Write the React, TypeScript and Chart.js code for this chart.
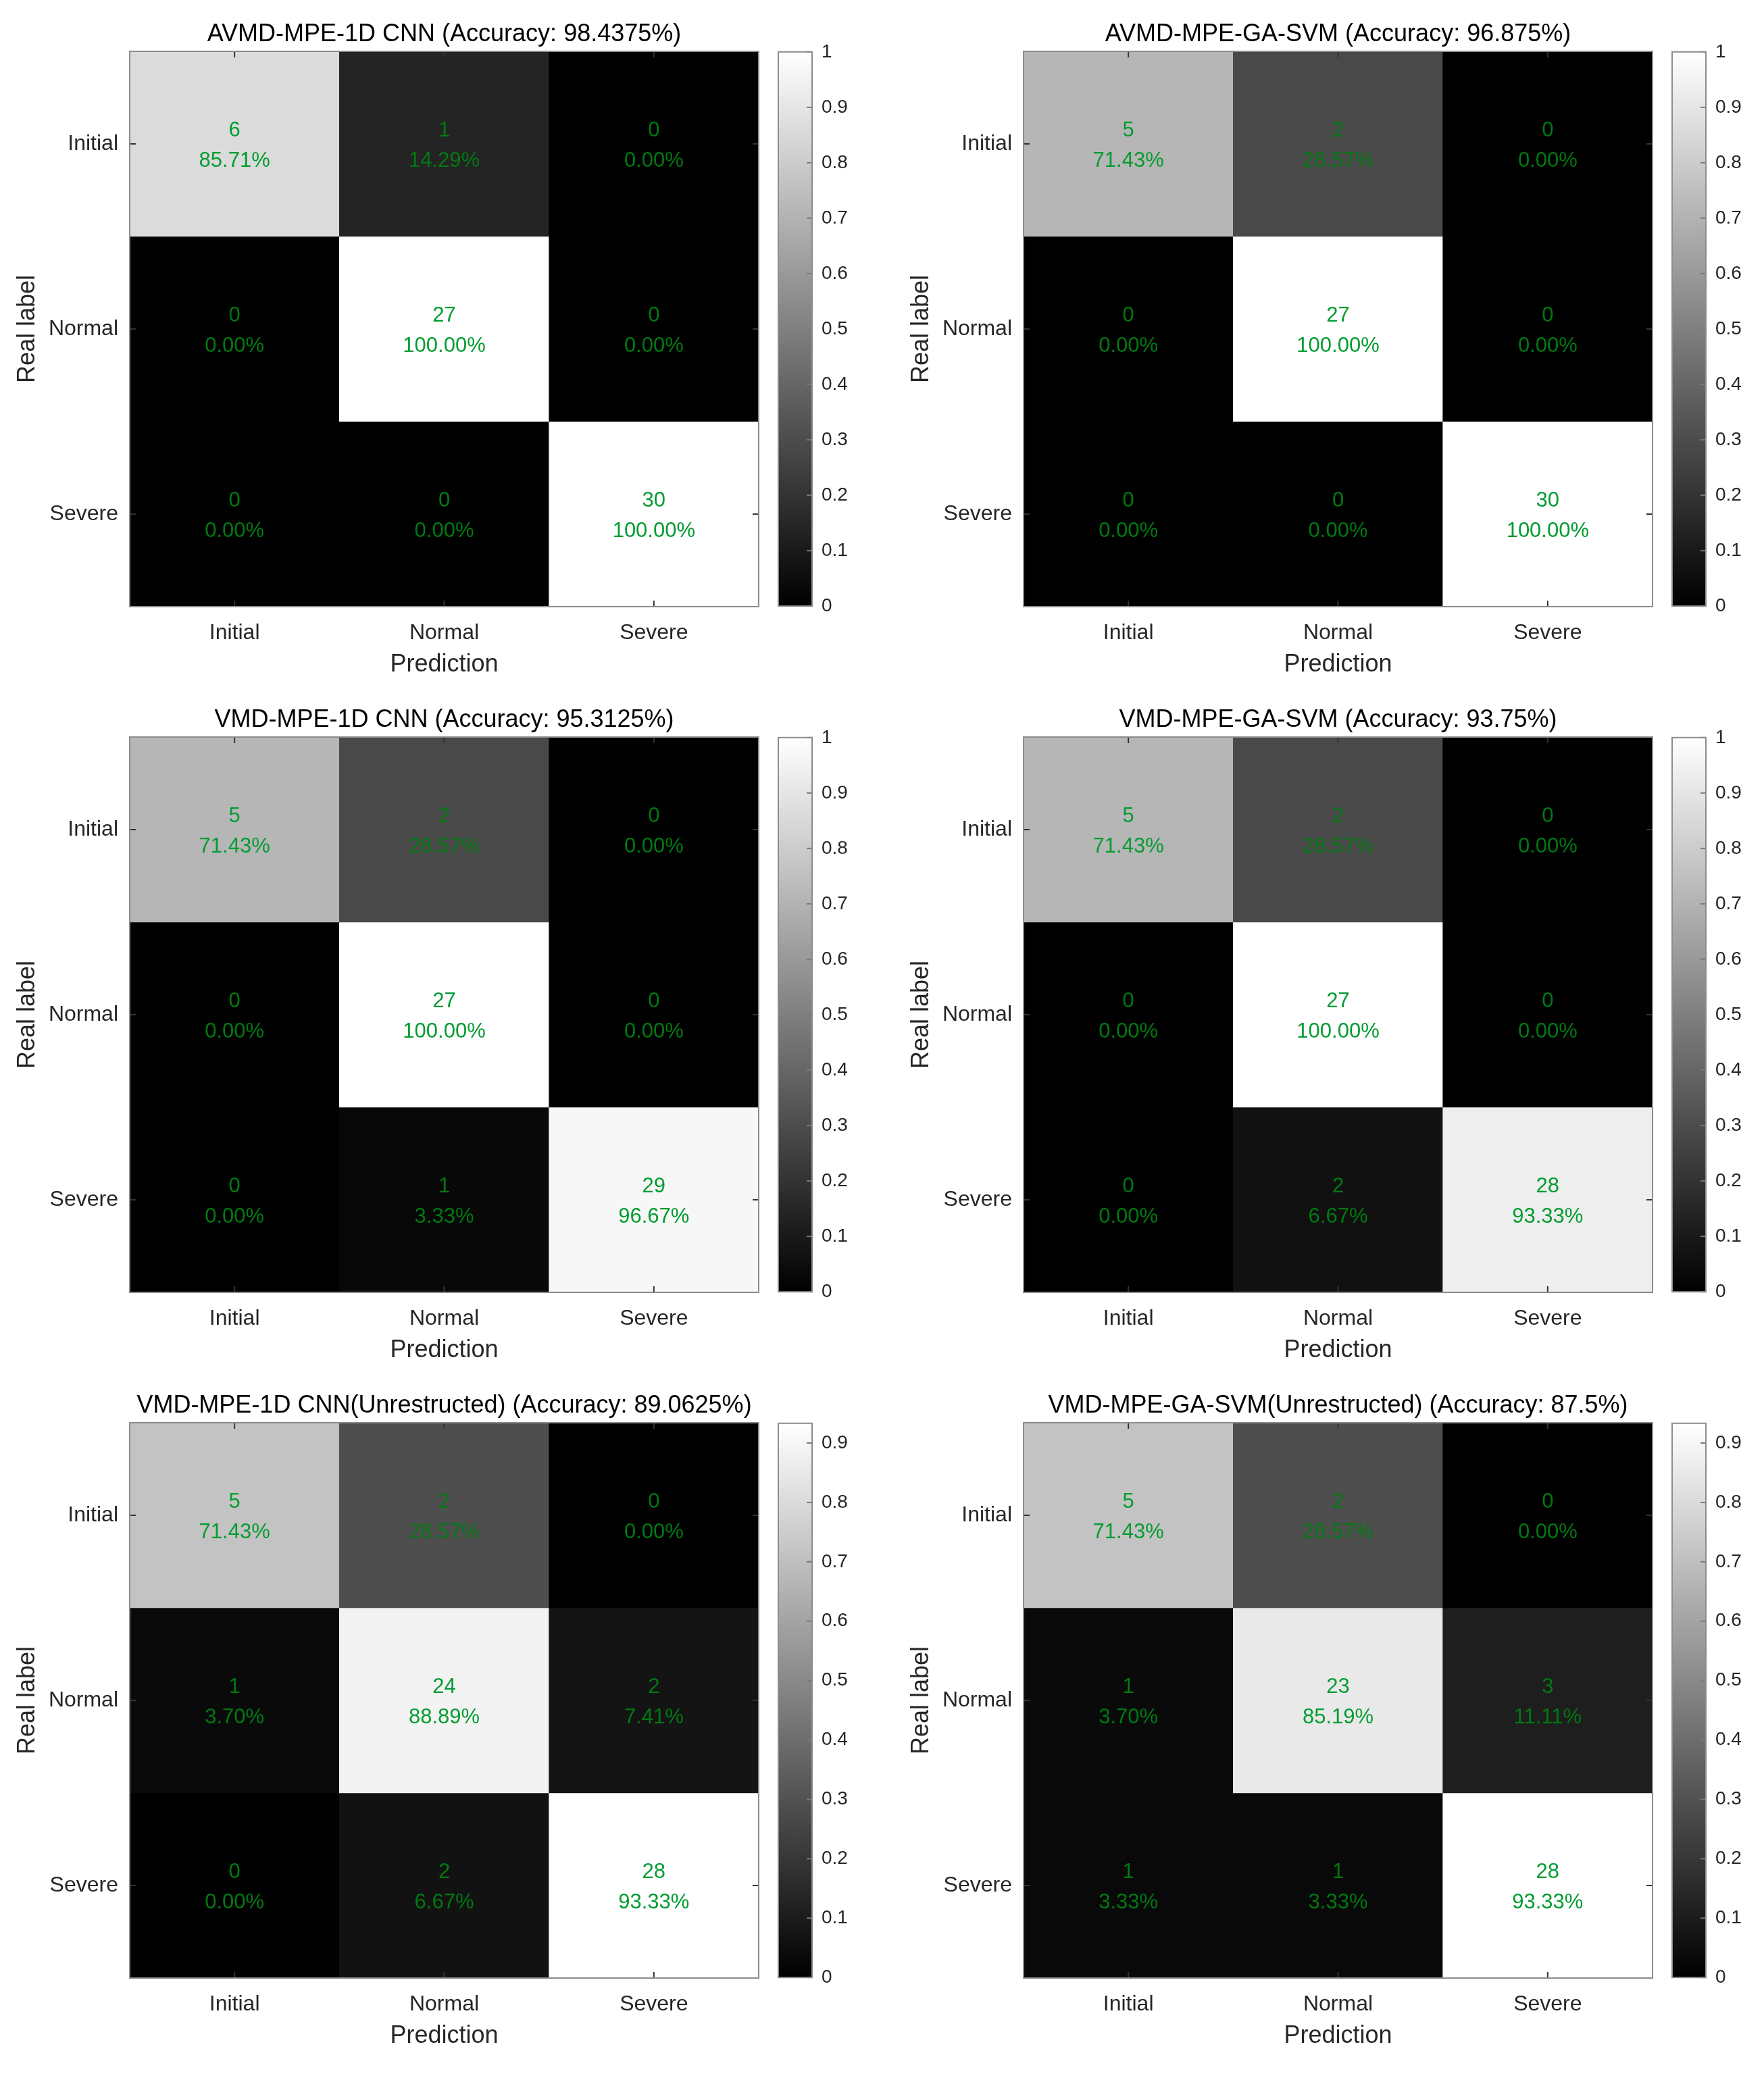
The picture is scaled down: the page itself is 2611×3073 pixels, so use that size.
import React, { useEffect, useRef } from 'react';
import { Chart, registerables } from 'chart.js';

Chart.register(...registerables);

// ---------------- data ----------------
const ROW_LABELS = ['Initial', 'Normal', 'Severe'];
const COL_LABELS = ['Initial', 'Normal', 'Severe'];

const TITLES = [
  'AVMD-MPE-1D CNN (Accuracy: 98.4375%)',
  'AVMD-MPE-GA-SVM (Accuracy: 96.875%)',
  'VMD-MPE-1D CNN (Accuracy: 95.3125%)',
  'VMD-MPE-GA-SVM (Accuracy: 93.75%)',
  'VMD-MPE-1D CNN(Unrestructed) (Accuracy: 89.0625%)',
  'VMD-MPE-GA-SVM(Unrestructed) (Accuracy: 87.5%)',
];

const COUNTS_AVMD_CNN = [[6, 1, 0], [0, 27, 0], [0, 0, 30]];
const PCTS_AVMD_CNN = [[85.71, 14.29, 0], [0, 100, 0], [0, 0, 100]];

const COUNTS_AVMD_SVM = [[5, 2, 0], [0, 27, 0], [0, 0, 30]];
const PCTS_AVMD_SVM = [[71.43, 28.57, 0], [0, 100, 0], [0, 0, 100]];

const COUNTS_VMD_CNN = [[5, 2, 0], [0, 27, 0], [0, 1, 29]];
const PCTS_VMD_CNN = [[71.43, 28.57, 0], [0, 100, 0], [0, 3.33, 96.67]];

const COUNTS_VMD_SVM = [[5, 2, 0], [0, 27, 0], [0, 2, 28]];
const PCTS_VMD_SVM = [[71.43, 28.57, 0], [0, 100, 0], [0, 6.67, 93.33]];

const COUNTS_VMD_CNN_U = [[5, 2, 0], [1, 24, 2], [0, 2, 28]];
const PCTS_VMD_CNN_U = [[71.43, 28.57, 0], [3.70, 88.89, 7.41], [0, 6.67, 93.33]];

const COUNTS_VMD_SVM_U = [[5, 2, 0], [1, 23, 3], [1, 1, 28]];
const PCTS_VMD_SVM_U = [[71.43, 28.57, 0], [3.70, 85.19, 11.11], [3.33, 3.33, 93.33]];

const PANEL_COUNTS = [COUNTS_AVMD_CNN, COUNTS_AVMD_SVM, COUNTS_VMD_CNN, COUNTS_VMD_SVM, COUNTS_VMD_CNN_U, COUNTS_VMD_SVM_U];
const PANEL_PCTS = [PCTS_AVMD_CNN, PCTS_AVMD_SVM, PCTS_VMD_CNN, PCTS_VMD_SVM, PCTS_VMD_CNN_U, PCTS_VMD_SVM_U];

const CB_MAX = [1, 1, 1, 1, 0.9333, 0.9333];
const CB_TICKS = [0, 0.1, 0.2, 0.3, 0.4, 0.5, 0.6, 0.7, 0.8, 0.9, 1];

// ---------------- layout / style ----------------
const FONT = "'Liberation Sans', Arial, Helvetica, sans-serif";
const COL_X = [0, 1323];
const ROW_TOP = [76, 1091, 2106];
const MAT_LEFT = 192;
const MAT_W = 931;
const MAT_H = 822;
const TOP_PAD = 76;
const X_AXIS_H = 110;
const RIGHT_PAD = 10;

function grayLevel(v: number, max: number) {
  return Math.round(255 * Math.max(0, Math.min(v / max, 1)));
}

function line(ctx: CanvasRenderingContext2D, x1: number, y1: number, x2: number, y2: number) {
  ctx.beginPath();
  ctx.moveTo(x1, y1);
  ctx.lineTo(x2, y2);
  ctx.stroke();
}

function matrixConfig(idx: number): any {
  const counts = PANEL_COUNTS[idx];
  const pcts = PANEL_PCTS[idx];
  const cmax = CB_MAX[idx];
  const title = TITLES[idx];

  const datasets = ROW_LABELS.map((_, r) => ({
    label: ROW_LABELS[r],
    data: COL_LABELS.map(() => [r, r + 1]),
    backgroundColor: COL_LABELS.map((_, c) => {
      const g = grayLevel(pcts[r][c] / 100, cmax);
      return `rgb(${g},${g},${g})`;
    }),
    borderWidth: 0,
    barPercentage: 1,
    categoryPercentage: 1,
    grouped: false,
  }));

  const decor = {
    id: 'matrixDecor',
    afterDatasetsDraw(chart: any) {
      const { ctx, chartArea: a, scales } = chart;
      const x = scales.x;
      const y = scales.y;
      ctx.save();
      // inward tick marks
      ctx.strokeStyle = '#333333';
      ctx.lineWidth = 2;
      COL_LABELS.forEach((_, c) => {
        const px = x.getPixelForValue(c);
        line(ctx, px, a.bottom, px, a.bottom - 9);
        line(ctx, px, a.top, px, a.top + 9);
      });
      ROW_LABELS.forEach((_, r) => {
        const py = y.getPixelForValue(r + 0.5);
        line(ctx, a.left, py, a.left + 9, py);
        line(ctx, a.right, py, a.right - 9, py);
      });
      // frame
      ctx.strokeStyle = '#8c8c8c';
      ctx.lineWidth = 2;
      ctx.strokeRect(a.left, a.top, a.right - a.left, a.bottom - a.top);
      // cell texts
      ctx.font = `31px ${FONT}`;
      ctx.textAlign = 'center';
      ctx.textBaseline = 'middle';
      ROW_LABELS.forEach((_, r) => {
        COL_LABELS.forEach((__, c) => {
          const cx = x.getPixelForValue(c);
          const cy = y.getPixelForValue(r + 0.5);
          const g = grayLevel(pcts[r][c] / 100, cmax);
          ctx.fillStyle = g > 128 ? '#009c30' : '#007a12';
          ctx.fillText(String(counts[r][c]), cx, cy - 20);
          ctx.fillText(pcts[r][c].toFixed(2) + '%', cx, cy + 25);
        });
      });
      // title
      ctx.font = `36px ${FONT}`;
      ctx.fillStyle = '#000000';
      ctx.fillText(title, (a.left + a.right) / 2, a.top - 25);
      ctx.restore();
    },
  };

  return {
    type: 'bar',
    data: { labels: COL_LABELS, datasets },
    options: {
      responsive: false,
      animation: false,
      events: [],
      layout: { padding: { top: TOP_PAD, left: 0, right: RIGHT_PAD, bottom: 0 } },
      plugins: { legend: { display: false }, tooltip: { enabled: false }, title: { display: false } },
      scales: {
        x: {
          type: 'category',
          position: 'bottom',
          grid: { display: false, drawTicks: false },
          border: { display: false },
          ticks: { padding: 20, color: '#262626', maxRotation: 0, font: { family: FONT, size: 32 } },
          title: {
            display: true,
            text: 'Prediction',
            color: '#262626',
            font: { family: FONT, size: 36, lineHeight: 1 },
            padding: { top: 0, bottom: 6 },
          },
          afterFit: (s: any) => {
            s.height = X_AXIS_H;
          },
        },
        y: {
          type: 'linear',
          position: 'left',
          min: 0,
          max: 3,
          reverse: true,
          afterBuildTicks: (s: any) => {
            s.ticks = ROW_LABELS.map((_, i) => ({ value: i + 0.5 }));
          },
          grid: { display: false, drawTicks: false },
          border: { display: false },
          ticks: {
            padding: 17,
            color: '#262626',
            autoSkip: false,
            font: { family: FONT, size: 32 },
            callback: (v: any) => ROW_LABELS[Math.floor(Number(v))],
          },
          title: {
            display: true,
            text: 'Real label',
            color: '#262626',
            font: { family: FONT, size: 36, lineHeight: 1 },
            padding: { top: 23, bottom: 0 },
          },
          afterFit: (s: any) => {
            s.width = MAT_LEFT;
          },
        },
      },
    },
    plugins: [decor],
  };
}

function colorbarConfig(idx: number): any {
  const cmax = CB_MAX[idx];
  const decor = {
    id: 'cbDecor',
    afterDatasetsDraw(chart: any) {
      const { ctx, chartArea: a, scales } = chart;
      const y = scales.y;
      ctx.save();
      ctx.strokeStyle = '#7a7a7a';
      ctx.lineWidth = 2;
      y.ticks.forEach((t: any) => {
        const py = y.getPixelForValue(t.value);
        line(ctx, a.right, py, a.right - 8, py);
      });
      ctx.strokeStyle = '#8c8c8c';
      ctx.strokeRect(a.left, a.top, a.right - a.left, a.bottom - a.top);
      ctx.restore();
    },
  };
  return {
    type: 'bar',
    data: {
      labels: ['colorbar'],
      datasets: [
        {
          data: [[0, cmax]],
          backgroundColor: (context: any) => {
            const chart = context.chart;
            const a = chart.chartArea;
            if (!a) return '#000000';
            const g = chart.ctx.createLinearGradient(0, a.bottom, 0, a.top);
            g.addColorStop(0, '#000000');
            g.addColorStop(1, '#ffffff');
            return g;
          },
          borderWidth: 0,
          barPercentage: 1,
          categoryPercentage: 1,
        },
      ],
    },
    options: {
      responsive: false,
      animation: false,
      events: [],
      layout: { padding: { left: 20, right: 10, top: 30, bottom: 30 } },
      plugins: { legend: { display: false }, tooltip: { enabled: false } },
      scales: {
        x: { display: false },
        y: {
          type: 'linear',
          position: 'right',
          min: 0,
          max: cmax,
          afterBuildTicks: (s: any) => {
            s.ticks = CB_TICKS.filter((t) => t <= cmax + 1e-9).map((v) => ({ value: v }));
          },
          grid: { display: false, drawTicks: false },
          border: { display: false },
          ticks: {
            padding: 14,
            color: '#262626',
            autoSkip: false,
            font: { family: FONT, size: 28 },
            callback: (v: any) => String(Number(Number(v).toFixed(1))),
          },
          afterFit: (s: any) => {
            s.width = 70;
          },
        },
      },
    },
    plugins: [decor],
  };
}

function Panel({ idx }: { idx: number }) {
  const mRef = useRef<HTMLCanvasElement>(null);
  const cRef = useRef<HTMLCanvasElement>(null);
  const col = idx % 2;
  const row = Math.floor(idx / 2);
  const ox = COL_X[col];
  const top = ROW_TOP[row];
  const mW = MAT_LEFT + MAT_W + RIGHT_PAD;
  const mH = TOP_PAD + MAT_H + X_AXIS_H;
  const cW = 150;
  const cH = MAT_H + 60;

  useEffect(() => {
    const m = new Chart(mRef.current as HTMLCanvasElement, matrixConfig(idx));
    const c = new Chart(cRef.current as HTMLCanvasElement, colorbarConfig(idx));
    return () => {
      m.destroy();
      c.destroy();
    };
  }, [idx]);

  return (
    <>
      <canvas
        ref={mRef}
        width={mW}
        height={mH}
        style={{ position: 'absolute', left: ox, top: top - TOP_PAD, width: mW, height: mH }}
      />
      <canvas
        ref={cRef}
        width={cW}
        height={cH}
        style={{ position: 'absolute', left: ox + MAT_LEFT + MAT_W + 9, top: top - 30, width: cW, height: cH }}
      />
    </>
  );
}

export default function App() {
  return (
    <div style={{ position: 'absolute', left: 0, top: 0, width: 2611, height: 3073, background: '#ffffff' }}>
      {TITLES.map((_, i) => (
        <Panel key={i} idx={i} />
      ))}
    </div>
  );
}
